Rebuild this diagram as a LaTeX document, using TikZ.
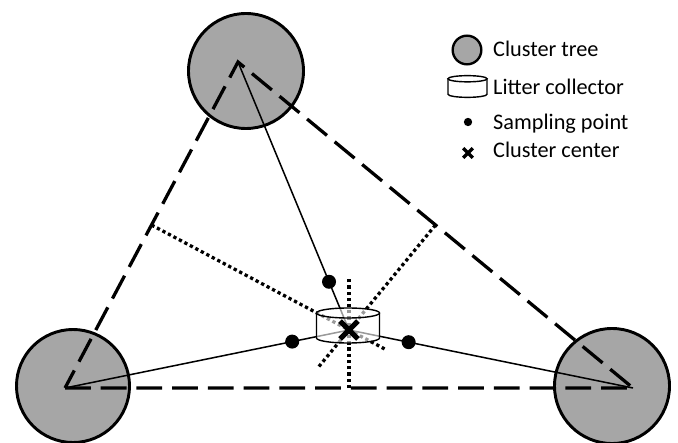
\documentclass[tikz,border=0pt]{standalone}
\usepackage{fontspec}
\setmainfont{Carlito}
\usetikzlibrary{calc,shapes.misc}

\tikzset{
  tree/.style={circle,draw,line width=2.5pt,fill=black!35,inner sep=0pt},
  edge/.style={line width=2.8pt,dash pattern=on 22pt off 8.5pt},
  bisect/.style={line width=2.8pt,dash pattern=on 2.8pt off 2.5pt},
  link/.style={line width=1.3pt},
  spot/.style={circle,fill=black,inner sep=0pt},
  centre/.style={cross out,draw,inner sep=0pt},
  legend/.style={anchor=base west,inner sep=0pt,font=\fontsize{19}{23}\selectfont},
  collector/.pic={
    \fill[white,opacity=.6] (-31.5,12.5) -- (-31.5,-12.5)
      arc[start angle=180,end angle=360,x radius=31.5,y radius=5] -- (31.5,12.5)
      arc[start angle=0,end angle=180,x radius=31.5,y radius=5] -- cycle;
    \draw[line width=1.2pt] (-31.5,12.5) -- (-31.5,-12.5)
      arc[start angle=180,end angle=360,x radius=31.5,y radius=5] -- (31.5,12.5);
    \draw[line width=1.2pt] (0,12.5) ellipse[x radius=31.5,y radius=5];
  }
}

\begin{document}
\begin{tikzpicture}[x=0.03cm,y=0.03cm]
  \useasboundingbox (0,0) rectangle (678,442);

  % cluster trees
  \node[tree,minimum size=3.39cm] (treeL) at (73,56) {};
  \node[tree,minimum size=3.45cm] (treeR) at (612,56) {};
  \node[tree,minimum size=3.45cm] (treeT) at (246,371) {};

  \coordinate (tA) at (65,54);
  \coordinate (tB) at (633,54);
  \coordinate (tC) at (238,380);
  \coordinate (cc) at (349,112);
  \coordinate (mAC) at ($(tA)!.5!(tC)$);
  \coordinate (mCB) at ($(tC)!.5!(tB)$);
  \coordinate (mAB) at ($(tA)!.5!(tB)$);

  \draw[edge] (tA) -- (tB) -- (tC) -- cycle;

  % tree to center
  \draw[link] (tC) -- (cc);
  \draw[link] (tA) -- (cc);
  \draw[link] (tB) -- (cc);

  % perpendicular bisectors
  \draw[bisect] (mAC) -- ($(mAC)!1.18!(cc)$);
  \draw[bisect] (mCB) -- ($(mCB)!1.35!(cc)$);
  \draw[bisect] (mAB) -- ($(mAB)!1.91!(cc)$);

  \pic at (348,116.5) {collector};
  \node[centre,minimum size=0.38cm,line width=4.5pt] (centre) at (cc) {};

  % sampling points
  \node[spot,minimum size=0.42cm] (spotT) at ($(tC)!.82!(cc)$) {};
  \node[spot,minimum size=0.42cm] (spotL) at ($(tA)!.8!(cc)$) {};
  \node[spot,minimum size=0.42cm] (spotR) at ($(tB)!.79!(cc)$) {};

  % legend
  \node[tree,minimum size=0.86cm,line width=2pt] (keyTree) at (467,392) {};
  \pic[scale=.62] at (467.5,355.5) {collector};
  \node[spot,minimum size=0.25cm] (keySpot) at (468,320) {};
  \node[centre,minimum size=0.18cm,line width=3pt] (keyCentre) at (468,289) {};
  \node[legend] (txtTree) at (493,385) {Cluster tree};
  \node[legend] (txtCollector) at (493,347) {Litter collector};
  \node[legend] (txtSpot) at (493,312) {Sampling point};
  \node[legend] (txtCentre) at (493,284) {Cluster center};
\end{tikzpicture}
\end{document}
